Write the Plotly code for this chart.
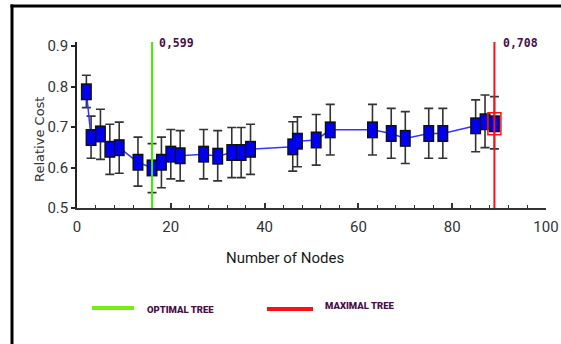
import plotly.graph_objects as go

# ---- data ----
nodes = [2, 3, 5, 7, 9, 13, 16, 18, 20, 22, 27, 30, 33, 35, 37, 46, 47, 51, 54, 63, 67, 70, 75, 78, 85, 87, 89]
cost = [0.787, 0.674, 0.683, 0.645, 0.649, 0.613, 0.599, 0.613, 0.633, 0.629, 0.633, 0.628, 0.637, 0.637,
        0.645, 0.651, 0.665, 0.668, 0.693, 0.693, 0.684, 0.672, 0.684, 0.684, 0.703, 0.713, 0.708]
cost_hi = [0.828, 0.727, 0.744, 0.707, 0.712, 0.675, 0.659, 0.675, 0.694, 0.691, 0.694, 0.691, 0.699, 0.699,
           0.707, 0.713, 0.725, 0.731, 0.756, 0.756, 0.746, 0.738, 0.746, 0.746, 0.767, 0.779, 0.775]
cost_lo = [0.748, 0.623, 0.620, 0.583, 0.586, 0.554, 0.538, 0.550, 0.572, 0.567, 0.572, 0.567, 0.575, 0.575,
           0.583, 0.591, 0.602, 0.606, 0.631, 0.631, 0.623, 0.610, 0.623, 0.623, 0.639, 0.649, 0.646]

optimal_nodes, optimal_cost = 16, 0.599
maximal_nodes, maximal_cost = 89, 0.708

x_ticks = [0, 20, 40, 60, 80, 100]
y_ticks = [0.5, 0.6, 0.7, 0.8, 0.9]
x_title = "Number of Nodes"
y_title = "Relative Cost"
legend_labels = ["OPTIMAL TREE", "MAXIMAL TREE"]

# ---- layout geometry ----
W, H = 561, 344
L, R, T, B = 77, 15, 42, 136
PW, PH = W - L - R, H - T - B
X_RANGE = [0, 100]
Y_RANGE = [0.5, 0.91]
UPP = (Y_RANGE[1] - Y_RANGE[0]) / PH        # y data units per pixel
XPP = (X_RANGE[1] - X_RANGE[0]) / PW        # x data units per pixel


def px_x(px):
    return (px - L) / PW


def px_y(py):
    return (H - B - py) / PH


TICKFONT = "Roboto, sans-serif"
TITLEFONT = "Roboto, sans-serif"
BOLDFONT = "DejaVu Sans Mono, monospace"
LEGFONT = "Roboto, sans-serif"
PURPLE = "#4a0f48"
GREEN = "#44ee00"
RED = "#ff1010"
BLUE = "#0000f0"

err_plus = [h - c for h, c in zip(cost_hi, cost)]
err_minus = [c - l for c, l in zip(cost, cost_lo)]

fig = go.Figure()

# connecting line + whiskers
fig.add_trace(go.Scatter(
    x=nodes, y=cost, mode="lines",
    line=dict(color="#3535ff", width=1.5),
    error_y=dict(type="data", symmetric=False, array=err_plus, arrayminus=err_minus,
                 color="#333333", thickness=1.6, width=4.5),
    showlegend=False, hoverinfo="skip"))

# rectangular boxes (black outline, blue fill) drawn as thick bars
fig.add_trace(go.Scatter(
    x=nodes, y=cost, mode="markers", marker=dict(size=1, opacity=0),
    error_y=dict(type="constant", value=8.5 * UPP, color="#101010", thickness=11, width=0),
    showlegend=False, hoverinfo="skip"))
fig.add_trace(go.Scatter(
    x=nodes, y=cost, mode="markers", marker=dict(size=1, opacity=0),
    error_y=dict(type="constant", value=7.0 * UPP, color=BLUE, thickness=8.2, width=0),
    showlegend=False, hoverinfo="skip"))

shapes = []
# vertical tree lines
shapes.append(dict(type="line", xref="x", yref="paper", x0=optimal_nodes, x1=optimal_nodes,
                   y0=0, y1=1, line=dict(color=GREEN, width=2), layer="above"))
shapes.append(dict(type="line", xref="x", yref="paper", x0=maximal_nodes, x1=maximal_nodes,
                   y0=0, y1=1, line=dict(color=RED, width=2), layer="above"))
# red highlight box on maximal tree point
shapes.append(dict(type="rect", xref="x", yref="y",
                   x0=maximal_nodes - 6.5 * XPP, x1=maximal_nodes + 6.5 * XPP,
                   y0=maximal_cost - 11 * UPP, y1=maximal_cost + 11 * UPP,
                   line=dict(color=RED, width=1.5), layer="above"))
# frame lines
shapes.append(dict(type="line", xref="paper", yref="paper", x0=px_x(12), x1=px_x(12),
                   y0=px_y(H + 2), y1=px_y(4.5), line=dict(color="black", width=3)))
shapes.append(dict(type="line", xref="paper", yref="paper", x0=px_x(10.5), x1=px_x(W + 2),
                   y0=px_y(6), y1=px_y(6), line=dict(color="black", width=3)))
# legend lines
shapes.append(dict(type="line", xref="paper", yref="paper", x0=px_x(92), x1=px_x(134),
                   y0=px_y(308), y1=px_y(308), line=dict(color="#77ee11", width=4)))
shapes.append(dict(type="line", xref="paper", yref="paper", x0=px_x(267), x1=px_x(313),
                   y0=px_y(309), y1=px_y(309), line=dict(color=RED, width=4)))

annotations = [
    dict(text=f"{optimal_cost:.3f}".replace(".", ","), xref="x", yref="paper",
         x=optimal_nodes, y=px_y(43), xanchor="left", yanchor="middle", xshift=5,
         showarrow=False, font=dict(family=BOLDFONT, size=11.5, color=PURPLE, weight="bold")),
    dict(text=f"{maximal_cost:.3f}".replace(".", ","), xref="x", yref="paper",
         x=maximal_nodes, y=px_y(43), xanchor="left", yanchor="middle", xshift=7,
         showarrow=False, font=dict(family=BOLDFONT, size=11.5, color=PURPLE, weight="bold")),
    dict(text=x_title, xref="paper", yref="paper", x=px_x(285), y=px_y(258),
         xanchor="center", yanchor="middle", showarrow=False,
         font=dict(family=TITLEFONT, size=15, color="#1a1a1a")),
    dict(text=y_title, xref="paper", yref="paper", x=px_x(39), y=px_y(140),
         xanchor="center", yanchor="middle", showarrow=False, textangle=-90,
         font=dict(family="DejaVu Sans, sans-serif", size=13, color="#333333")),
    dict(text=legend_labels[0], xref="paper", yref="paper", x=px_x(145), y=px_y(309),
         xanchor="left", yanchor="middle", showarrow=False,
         font=dict(family=LEGFONT, size=9.5, color=PURPLE, weight=900)),
    dict(text=legend_labels[1], xref="paper", yref="paper", x=px_x(323), y=px_y(305),
         xanchor="left", yanchor="middle", showarrow=False,
         font=dict(family=LEGFONT, size=9.5, color=PURPLE, weight=900)),
]

fig.update_layout(
    width=W, height=H, autosize=False,
    margin=dict(l=L, r=R, t=T, b=B, pad=0, autoexpand=False),
    paper_bgcolor="white", plot_bgcolor="white",
    shapes=shapes, annotations=annotations,
    showlegend=False,
    xaxis=dict(range=X_RANGE, tickvals=x_ticks, showgrid=False, zeroline=False, automargin=False,
               showline=True, linecolor="#333333", linewidth=2,
               ticks="inside", ticklen=5, tickwidth=1.5, tickcolor="#333333",
               ticklabelstandoff=4,
               minor=dict(ticks="inside", ticklen=3, dtick=4, tickcolor="#333333", tickwidth=1),
               tickfont=dict(family=TICKFONT, size=15, color="#333333")),
    yaxis=dict(range=Y_RANGE, tickvals=y_ticks, ticktext=[f"{v:.1f}" for v in y_ticks],
               showgrid=False, zeroline=False, automargin=False,
               showline=True, linecolor="#222222", linewidth=1.5,
               ticks="outside", ticklen=4, tickwidth=1.5, tickcolor="#222222",
               tickfont=dict(family=TICKFONT, size=15, color="#333333")),
)

fig.write_html("out.html", config={"displayModeBar": False},
               post_script="document.body.style.margin='0';document.body.style.overflow='hidden';")
